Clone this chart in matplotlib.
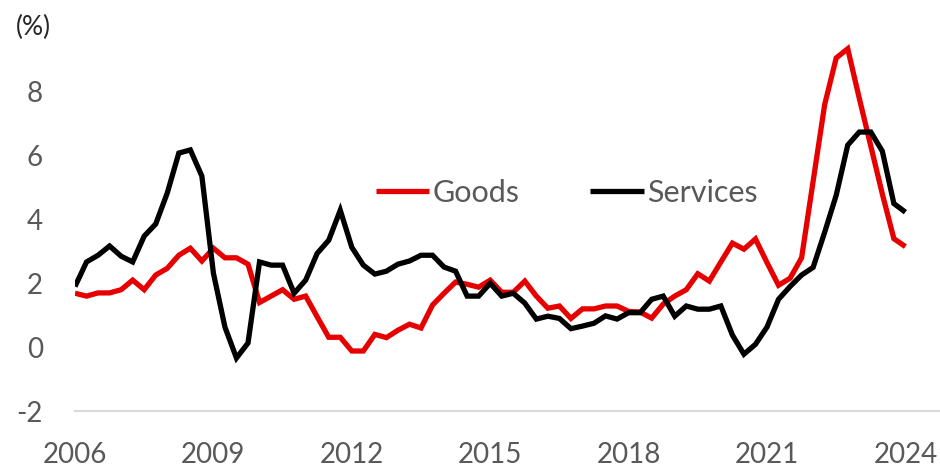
import matplotlib
matplotlib.use("Agg")
import matplotlib.pyplot as plt
import numpy as np

years = [2006, 2009, 2012, 2015, 2018, 2021, 2024]

goods = [1.69, 1.6, 1.7, 1.7, 1.8, 2.1, 1.8, 2.26, 2.47, 2.88,
         3.1, 2.7, 3.1, 2.8, 2.8, 2.6, 1.4, 1.6, 1.8, 1.5,
         1.6, 0.95, 0.31, 0.31, -0.12, -0.12, 0.4, 0.3, 0.53, 0.72,
         0.6, 1.32, 1.69, 2.04, 1.97, 1.88, 2.1, 1.72, 1.72, 2.07,
         1.6, 1.22, 1.29, 0.9, 1.2, 1.2, 1.29, 1.29, 1.12, 1.1,
         0.91, 1.35, 1.6, 1.8, 2.3, 2.07, 2.67, 3.26, 3.07, 3.39,
         2.65, 1.94, 2.16, 2.8, 5.2, 7.6, 9.06, 9.35, 7.8, 6.3,
         4.8, 3.4, 3.15]

services = [1.9, 2.67, 2.88, 3.17, 2.85, 2.67, 3.48, 3.86, 4.83, 6.08,
            6.18, 5.36, 2.32, 0.63, -0.34, 0.13, 2.67, 2.57, 2.57, 1.69,
            2.1, 2.94, 3.35, 4.29, 3.13, 2.57, 2.29, 2.38, 2.6, 2.7,
            2.88, 2.88, 2.51, 2.38, 1.6, 1.6, 2.0, 1.6, 1.69, 1.38,
            0.88, 0.97, 0.9, 0.58, 0.66, 0.75, 0.98, 0.88, 1.08, 1.08,
            1.5, 1.6, 0.97, 1.29, 1.19, 1.19, 1.29, 0.38, -0.22, 0.09,
            0.63, 1.5, 1.9, 2.26, 2.5, 3.6, 4.76, 6.33, 6.74, 6.74,
            6.14, 4.5, 4.23]

plt.rcParams['font.family'] = ['Lato', 'DejaVu Sans']

fig = plt.figure(figsize=(9.4, 4.68), dpi=100)
ax = fig.add_axes([75 / 940, (468 - 411) / 468, 1 - 75 / 940, (411 - 28) / 468])

x = np.arange(len(goods))
ax.plot(x, goods, color="#e60000", lw=3.8, label="Goods", solid_joinstyle="miter", solid_capstyle="butt")
ax.plot(x, services, color="#000000", lw=3.8, label="Services", solid_joinstyle="miter", solid_capstyle="butt")

ax.set_xlim(0, 75)
ax.set_ylim(-2, 10)
ax.set_yticks([-2, 0, 2, 4, 6, 8])
ax.set_yticklabels(["-2", "0", "2", "4", "6", "8"])
ax.set_xticks([12 * i for i in range(len(years))])
ax.set_xticklabels([str(y) for y in years])
ax.tick_params(axis='both', length=0, labelsize=20, colors="#595959")
ax.tick_params(axis='y', pad=23)
ax.tick_params(axis='x', pad=22)

for s in ["top", "right", "left"]:
    ax.spines[s].set_visible(False)
ax.spines["bottom"].set_color("#d9d9d9")
ax.spines["bottom"].set_linewidth(1.5)

fig.text(33 / 940, 1 - 27 / 468, "(%)", fontsize=19, color="#262626", ha="center", va="center")

leg = ax.legend(loc="center", bbox_to_anchor=((567 - 75) / 865, (411 - 193) / 383), ncol=2,
                frameon=False, fontsize=22, handlelength=1.75, handletextpad=0.12,
                columnspacing=2.3)
for t in leg.get_texts():
    t.set_color("#595959")

fig.savefig("out.png", dpi=100)
